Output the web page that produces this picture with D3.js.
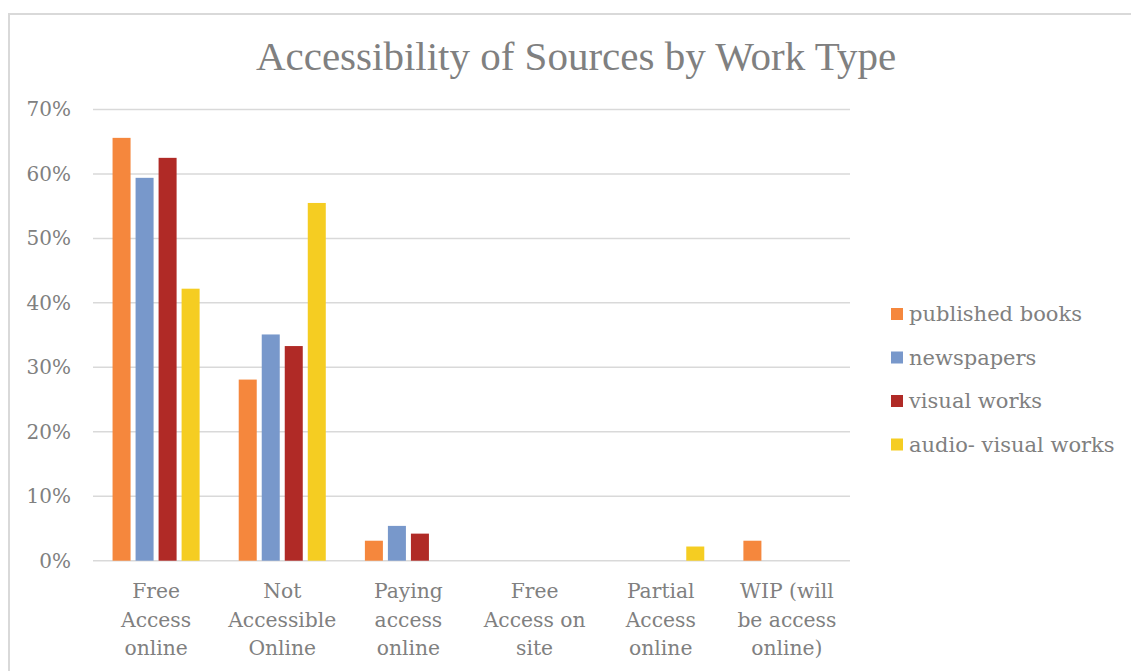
<!DOCTYPE html>
<html><head><meta charset="utf-8">
<script src="https://cdn.jsdelivr.net/npm/d3@7"></script>
<style>body{margin:0;background:#fff;overflow:hidden}</style>
</head><body>
<svg id="chart" width="1131" height="671"></svg>
<script>
const title = "Accessibility of Sources by Work Type";
const categories = ["Free Access online", "Not Accessible Online", "Paying access online", "Free Access on site", "Partial Access online", "WIP (will be access online)"];
const categoryLines = [["Free", "Access", "online"], ["Not", "Accessible", "Online"], ["Paying", "access", "online"], ["Free", "Access on", "site"], ["Partial", "Access", "online"], ["WIP (will", "be access", "online)"]];
const seriesNames = ["published books", "newspapers", "visual works", "audio- visual works"];
const seriesColors = ["#F5873D", "#7898CB", "#B02A26", "#F5CD22"];
const publishedBooks = [0.656, 0.281, 0.031, 0, 0, 0.031];
const newspapers = [0.594, 0.351, 0.054, 0, 0, 0];
const visualWorks = [0.625, 0.333, 0.042, 0, 0, 0];
const audioVisualWorks = [0.422, 0.555, 0, 0, 0.022, 0];
const yTicks = [0, 0.1, 0.2, 0.3, 0.4, 0.5, 0.6, 0.7];

const seriesValues = [publishedBooks, newspapers, visualWorks, audioVisualWorks];
const TITLE_FONT = "'Liberation Serif', 'Times New Roman', serif";
const FONT = "'DejaVu Serif', serif";
const TEXT = "#808080";
const GRID = "#d9d9d9";

const svg = d3.select("#chart");

// outer frame
svg.append("rect").attr("x", 9).attr("y", 14).attr("width", 1200).attr("height", 700)
  .attr("fill", "none").attr("stroke", GRID).attr("stroke-width", 2);

const x0 = d3.scaleBand().domain(categories).range([93, 850]).paddingInner(0.31).paddingOuter(0.155);
const x1 = d3.scaleBand().domain(seriesNames).range([0, x0.bandwidth()]).paddingInner(5 / 23);
const y = d3.scaleLinear().domain([0, 0.7]).range([560.7, 109.5]);

// gridlines
svg.append("g").selectAll("line").data(yTicks).join("line")
  .attr("x1", 93).attr("x2", 850)
  .attr("y1", d => y(d)).attr("y2", d => y(d))
  .attr("stroke", GRID).attr("stroke-width", 1.5);

// y axis labels
const yAxis = d3.axisLeft(y).tickValues(yTicks).tickFormat(d3.format(".0%")).tickSize(0).tickPadding(0);
const ya = svg.append("g").attr("transform", "translate(71,0)").call(yAxis);
ya.select(".domain").remove();
ya.selectAll("text").attr("fill", TEXT).style("font-family", FONT).style("font-size", "20px");

// bars
const groups = svg.append("g").selectAll("g").data(categories).join("g")
  .attr("transform", d => `translate(${x0(d)},0)`);
groups.selectAll("rect").data((c, i) => seriesNames.map((s, j) => ({ s, j, v: seriesValues[j][i] })))
  .join("rect")
  .filter(d => d.v > 0)
  .attr("x", d => x1(d.s)).attr("width", x1.bandwidth())
  .attr("y", d => y(d.v)).attr("height", d => y(0) - y(d.v))
  .attr("fill", d => seriesColors[d.j]);

// x category labels
const xl = svg.append("g").selectAll("text").data(categories).join("text")
  .attr("x", d => x0(d) + x0.bandwidth() / 2)
  .attr("y", 598)
  .attr("text-anchor", "middle").attr("fill", TEXT)
  .style("font-family", FONT).style("font-size", "20.3px");
xl.selectAll("tspan").data((d, i) => categoryLines[i]).join("tspan")
  .attr("x", function () { return this.parentNode.getAttribute("x"); })
  .attr("dy", (d, i) => i === 0 ? 0 : 28.5)
  .text(d => d);

// title
svg.append("text").attr("x", 576).attr("y", 70).attr("text-anchor", "middle")
  .attr("fill", TEXT).style("font-family", TITLE_FONT).style("font-size", "41px").text(title);

// legend
const lg = svg.append("g").selectAll("g").data(seriesNames).join("g")
  .attr("transform", (d, i) => `translate(891,${314 + i * 43.5})`);
lg.append("rect").attr("x", 0).attr("y", -6).attr("width", 12).attr("height", 12)
  .attr("fill", (d, i) => seriesColors[i]);
lg.append("text").attr("x", 18).attr("y", 0).attr("dy", "0.35em")
  .attr("fill", TEXT).style("font-family", FONT).style("font-size", "21px").text(d => d);
</script>
</body></html>
